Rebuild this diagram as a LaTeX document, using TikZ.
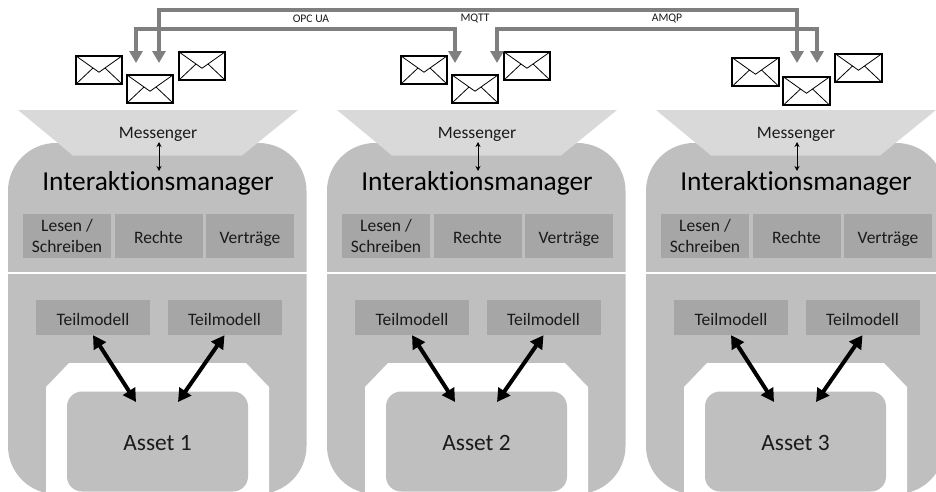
\documentclass[tikz,border=0pt]{standalone}
\usepackage{fontspec}
\setmainfont{Carlito}[Ligatures=NoCommon]
\usetikzlibrary{arrows.meta}
\definecolor{panelgray}{HTML}{BFBFBF}
\definecolor{boxgray}{HTML}{A6A6A6}
\definecolor{funnelgray}{HTML}{D9D9D9}
\definecolor{busgray}{HTML}{7F7F7F}
\definecolor{inkgray}{HTML}{1A1A1A}
\newcommand{\boxline}[2]{\rule{0pt}{#1pt}\smash{#2}}
\tikzset{
  x=1pt,y=-1pt,
  panelshape/.style={fill=panelgray,rounded corners=48pt},
  funnel/.style={fill=funnelgray},
  smallbox/.style={fill=boxgray,inner sep=0pt,text=inkgray,align=center,font=\fontsize{17.5}{21}\selectfont},
  lesebox/.style={smallbox,minimum width=88pt,minimum height=44pt},
  teilbox/.style={smallbox,minimum width=114pt,minimum height=35pt},
  assetbox/.style={fill=panelgray,rounded corners=15pt,inner sep=0pt,minimum width=181pt,minimum height=100pt,text=inkgray,font=\fontsize{23.4}{26}\selectfont},
  msgtext/.style={inner sep=0pt,text height=12pt,text depth=6pt,text=inkgray,font=\fontsize{17.5}{20}\selectfont},
  titletext/.style={inner sep=0pt,text height=18pt,text depth=6pt,text=black,font=\fontsize{27.4}{30}\selectfont},
  thinarrow/.style={draw=black,line width=1pt,{Stealth[length=5pt,width=5pt]}-{Stealth[length=5pt,width=5pt]}},
  fatarrow/.style={draw=black,line width=4pt,{Triangle[length=13pt,width=14pt]}-{Triangle[length=13pt,width=14pt]}},
  bus/.style={draw=busgray,line width=4pt,{Triangle[length=12pt,width=13pt]}-{Triangle[length=12pt,width=13pt]}},
  buslabel/.style={inner sep=0pt,text=inkgray,font=\fontsize{11.6}{13}\selectfont},
  letter/.style={draw=black,fill=white,line width=1.7pt,inner sep=0pt,minimum width=46.5pt,minimum height=28.5pt,
    path picture={
      \draw[black,line width=.8pt]
        (path picture bounding box.north west) -- ++(23.25,16.5) -- (path picture bounding box.north east)
        (path picture bounding box.south west) -- ++(17.5,-16.5)
        (path picture bounding box.south east) -- ++(-17.5,-16.5);
    }},
}
\newcommand{\onepanel}[3]{%
  \begin{scope}[xshift=#1pt]
    \fill[panelshape] (8,143) rectangle (306.5,494);
    \draw[white,line width=2pt] (8,272.7) -- (306.5,272.7);
    \fill[white] (46,495) -- (46,387) -- (69,363) -- (246,363) -- (269,387) -- (269,495) -- cycle;
    \node[assetbox] (asset#2) at (157.5,441.5) {\boxline{17}{Asset #3}};
    \fill[funnel] (18,110) -- (298,110) -- (242,155.5) -- (73,155.5) -- cycle;
    \node[msgtext] (msg#2) at (158,135.3) {Messenger};
    \node[titletext] (title#2) at (158,184) {Interaktionsmanager};
    \coordinate (arrowtop#2) at (159,142);
    \coordinate (arrowbot#2) at (159,171);
    \draw[thinarrow] (arrowtop#2) -- (arrowbot#2);
    \node[lesebox] (lesen#2) at (67,236) {\boxline{12.4}{Lesen /}\\\boxline{12.4}{Schreiben}};
    \node[lesebox] (rechte#2) at (158.5,236) {\boxline{14}{Rechte}};
    \node[lesebox] (vertrag#2) at (250,236) {\boxline{14}{Verträge}};
    \node[teilbox] (teila#2) at (93,317.5) {\boxline{15}{Teilmodell}};
    \node[teilbox] (teilb#2) at (224.5,317.5) {\boxline{15}{Teilmodell}};
    \coordinate (ina#2) at (136,402);
    \coordinate (inb#2) at (178,402);
    \draw[fatarrow] (teila#2.south) -- (ina#2);
    \draw[fatarrow] (teilb#2.south) -- (inb#2);
  \end{scope}}
\newcommand{\letters}[3]{%
  \begin{scope}[xshift=#1pt,yshift=-#2pt]
    \node[letter] (envA#3) at (99,70) {};
    \node[letter] (envB#3) at (150,89) {};
    \node[letter] (envC#3) at (202,66) {};
  \end{scope}}
\begin{document}
\begin{tikzpicture}
  \useasboundingbox (0,0) rectangle (936,491);
  \clip (0,0) rectangle (936,491);
  \fill[white] (0,0) rectangle (936,491);
  \onepanel{0}{x}{1}
  \onepanel{319}{y}{2}
  \onepanel{638}{z}{3}
  \letters{0}{0}{x}
  \letters{325}{0}{y}
  \letters{656.5}{2}{z}
  \coordinate (tipa) at (159,63);
  \coordinate (tipb) at (136,63);
  \coordinate (tipc) at (455,63);
  \coordinate (tipd) at (497,63);
  \coordinate (tipe) at (797,63);
  \coordinate (tipf) at (817,63);
  \coordinate (topmid) at (475,9.5);
  \coordinate (lowl) at (311,29);
  \coordinate (lowr) at (667,29);
  \draw[bus] (tipa) |- (topmid) -| (tipe);
  \draw[bus] (tipb) |- (lowl) -| (tipc);
  \draw[bus] (tipd) |- (lowr) -| (tipf);
  \node[buslabel] (opc) at (311,18.7) {OPC UA};
  \node[buslabel] (mqtt) at (475,18.7) {MQTT};
  \node[buslabel] (amqp) at (667,18.7) {AMQP};
\end{tikzpicture}
\end{document}
